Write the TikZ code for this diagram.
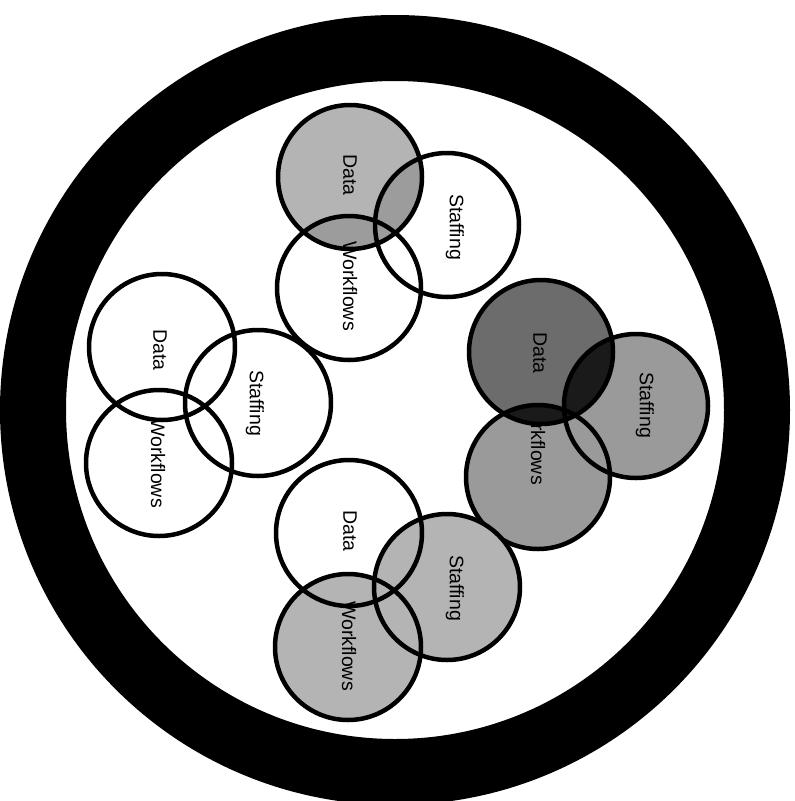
\documentclass[tikz,border=0pt]{standalone}
\usepackage{fontspec}
\setmainfont{Liberation Sans}
\definecolor{lightfill}{HTML}{B4B4B4}
\definecolor{lightlens}{HTML}{9C9C9C}
\definecolor{darkfill}{HTML}{6C6C6C}
\definecolor{midfill}{HTML}{9A9A9A}
\definecolor{blacklens}{HTML}{1A1A1A}
\tikzset{
  outline/.style={draw=black, line width=4.5pt},
  lbl/.style={rotate=-90, font=\fontsize{19.5}{19.5}\selectfont, inner sep=0pt, text=black},
  bigring/.style={draw=black, line width=66pt},
}
\begin{document}
\begin{tikzpicture}[x=1pt,y=-1pt]
\useasboundingbox (0,0) rectangle (795,801);
\fill[white] (0,0) rectangle (795,801);
% outer ring
\coordinate (c0) at (395,410);
\draw[bigring] (c0) circle[radius=362pt];

% ---------- group 1 (top) ----------
\coordinate (d1) at (350,177);
\coordinate (s1) at (447,225);
\coordinate (w1) at (349,288);
\fill[lightfill] (d1) circle[radius=72pt];
\begin{scope}
  \clip (d1) circle[radius=72pt];
  \fill[lightlens] (s1) circle[radius=72pt];
  \fill[lightlens] (w1) circle[radius=72pt];
\end{scope}
\node[lbl] (t1d) at (350,175) {Data};
\node[lbl] (t1s) at (455,227) {Staffing};
\node[lbl] (t1w) at (350,286) {Workflows};
\draw[outline] (d1) circle[radius=72pt];
\draw[outline] (s1) circle[radius=72pt];
\draw[outline] (w1) circle[radius=72pt];

% ---------- group 2 (right, dark) ----------
\coordinate (d2) at (541,352);
\coordinate (s2) at (636,406);
\coordinate (w2) at (538,477);
\fill[midfill] (w2) circle[radius=72pt];
\fill[midfill] (s2) circle[radius=72pt];
\node[lbl] (t2w) at (538,440) {Workflows};
\fill[darkfill] (d2) circle[radius=72pt];
\begin{scope}
  \clip (d2) circle[radius=72pt];
  \fill[blacklens] (s2) circle[radius=72pt];
  \fill[blacklens] (w2) circle[radius=72pt];
\end{scope}
\node[lbl] (t2d) at (540,353) {Data};
\node[lbl] (t2s) at (645,405) {Staffing};
\draw[outline] (d2) circle[radius=72pt];
\draw[outline] (s2) circle[radius=72pt];
\draw[outline] (w2) circle[radius=72pt];

% ---------- group 3 (bottom) ----------
\coordinate (d3) at (349,533);
\coordinate (s3) at (447,587);
\coordinate (w3) at (348,647);
\fill[lightfill] (s3) circle[radius=73pt];
\fill[lightfill] (w3) circle[radius=73pt];
\node[lbl] (t3d) at (350,531) {Data};
\node[lbl] (t3s) at (455,588) {Staffing};
\node[lbl] (t3w) at (349,646) {Workflows};
\draw[outline] (d3) circle[radius=73pt];
\draw[outline] (s3) circle[radius=73pt];
\draw[outline] (w3) circle[radius=73pt];

% ---------- group 4 (left) ----------
\coordinate (d4) at (162,347);
\coordinate (s4) at (258,403);
\coordinate (w4) at (159,463);
\node[lbl] (t4d) at (160,350) {Data};
\node[lbl] (t4s) at (255,403) {Staffing};
\node[lbl] (t4w) at (158,463) {Workflows};
\draw[outline] (d4) circle[radius=73pt];
\draw[outline] (s4) circle[radius=73pt];
\draw[outline] (w4) circle[radius=73pt];
\end{tikzpicture}
\end{document}
